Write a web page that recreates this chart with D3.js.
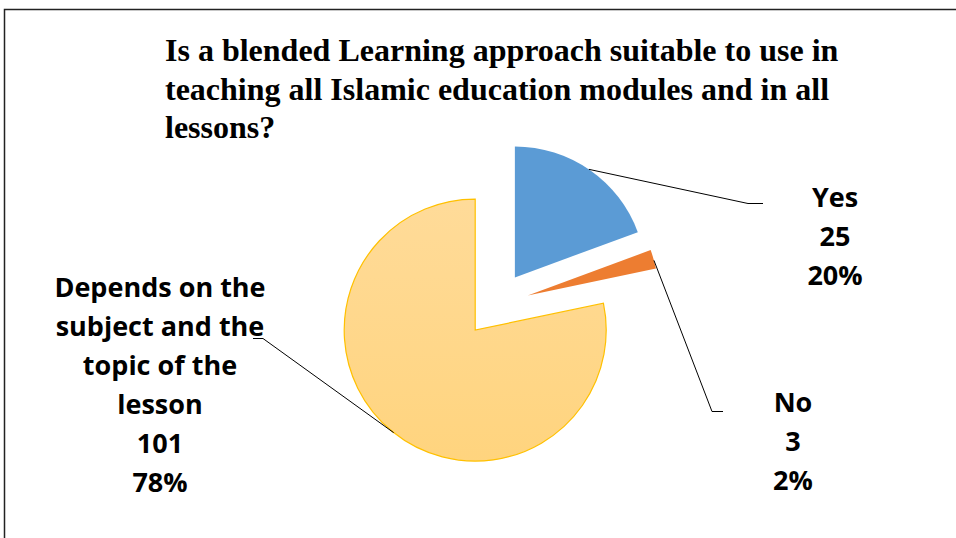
<!DOCTYPE html>
<html>
<head>
<meta charset="utf-8">
<script src="https://cdn.jsdelivr.net/npm/d3@7"></script>
<style>
  html, body { margin: 0; padding: 0; background: #fff; }
  svg { display: block; }
  .title { font-family: "Liberation Serif", "Times New Roman", Tinos, Times, "DejaVu Serif", serif; font-weight: bold; }
  .lbl { font-family: "Open Sans", Lato, sans-serif; font-weight: bold; }
</style>
</head>
<body>
<svg id="chart" width="956" height="538"></svg>
<script>
// Survey answers
const categories = ["Yes", "No", "Depends on the subject and the topic of the lesson"];
const counts = [25, 3, 101];
const percentLabels = ["20%", "2%", "78%"];
const labelLines = [["Yes"], ["No"], ["Depends on the", "subject and the", "topic of the", "lesson"]];
const titleLines = [
  "Is a blended Learning approach suitable to use in",
  "teaching all Islamic education modules and in all",
  "lessons?"
];
const colors = ["#5B9BD5", "#ED7D31", "url(#gold)"];

const svg = d3.select("#chart");
const W = 956, H = 538;

// gradient for the large slice
const defs = svg.append("defs");
const g1 = defs.append("linearGradient").attr("id", "gold")
  .attr("x1", 0).attr("y1", 0).attr("x2", 0).attr("y2", 1);
g1.append("stop").attr("offset", "0%").attr("stop-color", "#FFDB99");
g1.append("stop").attr("offset", "100%").attr("stop-color", "#FFD47E");

// chart frame
svg.append("rect").attr("x", 4.5).attr("y", 9.5).attr("width", W + 10).attr("height", H + 10)
  .attr("fill", "none").attr("stroke", "#222").attr("stroke-width", 1.5);

// title
const title = svg.append("text").attr("class", "title")
  .attr("font-size", 32).attr("fill", "#000");
titleLines.forEach((t, i) => {
  title.append("tspan").attr("x", 165).attr("y", 61 + i * 38.5).text(t);
});

// pie
const cx = 496, cy = 304.5, R = 131, explode = 33;
const pie = d3.pie().sort(null).startAngle(0).endAngle(2 * Math.PI)(counts);
const arc = d3.arc().innerRadius(0).outerRadius(R);

const slices = svg.append("g");
pie.forEach((d, i) => {
  const mid = (d.startAngle + d.endAngle) / 2;
  const ox = cx + explode * Math.sin(mid);
  const oy = cy - explode * Math.cos(mid);
  d.ox = ox; d.oy = oy;
  slices.append("path")
    .attr("transform", `translate(${ox},${oy})`)
    .attr("d", arc(d))
    .attr("fill", colors[i])
    .attr("stroke", i === 2 ? "#FFC000" : "none")
    .attr("stroke-width", i === 2 ? 1.2 : 0);
});

// leader lines: angle on slice rim, elbow point, end point
const leaders = [
  { angle: 34.4, elbow: [748, 203.5], end: [763, 203.5] },
  { angle: 74.5, elbow: [712, 411.5], end: [723, 411.5] },
  { angle: 218.5, elbow: [263, 338.5], end: [253, 338.5] }
];
const line = d3.line();
pie.forEach((d, i) => {
  const a = leaders[i].angle * Math.PI / 180;
  const p0 = [d.ox + R * Math.sin(a), d.oy - R * Math.cos(a)];
  svg.append("path")
    .attr("d", line([p0, leaders[i].elbow, leaders[i].end]))
    .attr("fill", "none").attr("stroke", "#000").attr("stroke-width", 1);
});

// data labels
const labelPos = [
  { x: 835, y: 207 },
  { x: 793, y: 412 },
  { x: 160, y: 297 }
];
const lh = 39;
pie.forEach((d, i) => {
  const lines = labelLines[i].concat([String(counts[i]), percentLabels[i]]);
  const t = svg.append("text").attr("class", "lbl")
    .attr("font-size", 27)
    .attr("text-anchor", "middle").attr("fill", "#000");
  lines.forEach((s, j) => {
    t.append("tspan").attr("x", labelPos[i].x).attr("y", labelPos[i].y + j * lh).text(s);
  });
});
</script>
</body>
</html>
